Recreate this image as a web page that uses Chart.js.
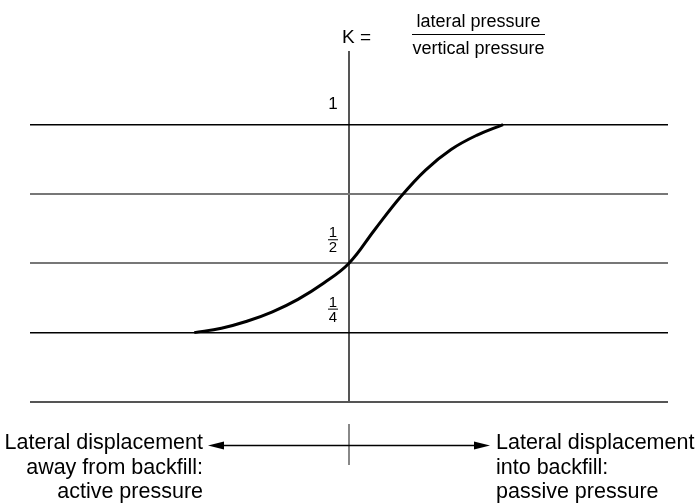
<!DOCTYPE html>
<html>
<head>
<meta charset="utf-8">
<script src="https://cdn.jsdelivr.net/npm/chart.js@4/dist/chart.umd.min.js"></script>
<style>
  html, body { margin: 0; padding: 0; background: #fff; }
  #wrap { width: 695px; height: 503px; position: relative; }
</style>
</head>
<body>
<div id="wrap"><canvas id="c" width="695" height="503"></canvas></div>
<script>
// Earth pressure coefficient K against lateral wall displacement
// (negative = away from backfill / active, positive = into backfill / passive)
const displacement = [-0.485, -0.40, -0.32, -0.24, -0.16, -0.08, 0, 0.08, 0.16, 0.24, 0.32, 0.40, 0.483];
const kValues      = [0.25, 0.266, 0.291, 0.325, 0.370, 0.428, 0.5, 0.620, 0.737, 0.836, 0.910, 0.961, 1.0];

// Reference levels of K and their labels (numerator/denominator)
const kLevels = [0, 0.25, 0.5, 0.75, 1];
const kLabels = [null, ['1', '4'], ['1', '2'], null, ['1']];

const leftCaption  = ['Lateral displacement', 'away from backfill:', 'active pressure'];
const rightCaption = ['Lateral displacement', 'into backfill:', 'passive pressure'];
const titleLeft = 'K =';
const titleNum = 'lateral pressure';
const titleDen = 'vertical pressure';

const FONT = '"Liberation Sans", Arial, Helvetica, sans-serif';

const levelStyle = {
  0:    { color: '#555', width: 2 },
  0.25: { color: '#000', width: 1.5 },
  0.5:  { color: '#777', width: 2 },
  0.75: { color: '#777', width: 2 },
  1:    { color: '#000', width: 1.5 }
};

const annotations = {
  id: 'annotations',
  afterDraw(chart) {
    const ctx = chart.ctx;
    const xs = chart.scales.x, ys = chart.scales.y;
    const x0 = xs.getPixelForValue(0);
    ctx.save();
    ctx.fillStyle = '#000';
    ctx.strokeStyle = '#000';

    // K level labels, just left of the vertical axis
    kLevels.forEach((k, i) => {
      const lab = kLabels[i];
      if (!lab) return;
      const yl = ys.getPixelForValue(k);
      const cx = x0 - 16;
      ctx.textAlign = 'center';
      ctx.textBaseline = 'alphabetic';
      if (lab.length === 1) {
        ctx.font = '17px ' + FONT;
        ctx.fillText(lab[0], cx, yl - 16);
      } else {
        ctx.font = '15px ' + FONT;
        ctx.fillText(lab[0], cx, yl - 26);
        ctx.lineWidth = 1;
        ctx.beginPath();
        ctx.moveTo(cx - 5, yl - 23.5);
        ctx.lineTo(cx + 5, yl - 23.5);
        ctx.stroke();
        ctx.fillText(lab[1], cx, yl - 11);
      }
    });

    // Title: K = lateral / vertical
    ctx.font = '19px ' + FONT;
    ctx.textAlign = 'left';
    ctx.textBaseline = 'alphabetic';
    ctx.fillText(titleLeft, 342, 43);
    ctx.font = '18px ' + FONT;
    const fx = 412, fw = 133, fc = fx + fw / 2;
    ctx.textAlign = 'center';
    ctx.fillText(titleNum, fc, 27);
    ctx.lineWidth = 1;
    ctx.beginPath();
    ctx.moveTo(fx, 34.5);
    ctx.lineTo(fx + fw, 34.5);
    ctx.stroke();
    ctx.fillText(titleDen, fc, 54);

    // Short marker below the plot and the double arrow
    ctx.strokeStyle = '#888';
    ctx.lineWidth = 2;
    ctx.beginPath();
    ctx.moveTo(x0, 424);
    ctx.lineTo(x0, 465);
    ctx.stroke();

    const ay = 445.5, aL = 208, aR = 490, head = 16, hw = 4;
    ctx.strokeStyle = '#000';
    ctx.lineWidth = 1.3;
    ctx.beginPath();
    ctx.moveTo(aL + head - 2, ay);
    ctx.lineTo(aR - head + 2, ay);
    ctx.stroke();
    ctx.beginPath();
    ctx.moveTo(aL, ay); ctx.lineTo(aL + head, ay - hw); ctx.lineTo(aL + head, ay + hw); ctx.closePath();
    ctx.fill();
    ctx.beginPath();
    ctx.moveTo(aR, ay); ctx.lineTo(aR - head, ay - hw); ctx.lineTo(aR - head, ay + hw); ctx.closePath();
    ctx.fill();

    // Captions either side of the arrow
    ctx.font = '21.5px ' + FONT;
    ctx.textAlign = 'right';
    leftCaption.forEach((t, i) => ctx.fillText(t, 203, 449 + i * 24.5));
    ctx.textAlign = 'left';
    rightCaption.forEach((t, i) => ctx.fillText(t, 496, 449 + i * 24.5));
    ctx.restore();
  }
};

new Chart(document.getElementById('c'), {
  type: 'line',
  data: {
    datasets: [{
      data: displacement.map((x, i) => ({ x: x, y: kValues[i] })),
      borderColor: '#000',
      borderWidth: 3,
      pointRadius: 0,
      tension: 0.4,
      fill: false
    }]
  },
  options: {
    responsive: false,
    animation: false,
    devicePixelRatio: 1,
    layout: { padding: { left: 30, right: 27, top: 51, bottom: 101 } },
    plugins: { legend: { display: false }, tooltip: { enabled: false }, title: { display: false } },
    scales: {
      x: {
        type: 'linear', min: -1, max: 1,
        afterBuildTicks: s => { s.ticks = [{ value: 0 }]; },
        ticks: { display: false },
        border: { display: false },
        grid: { drawTicks: false, color: '#555', lineWidth: 2 }
      },
      y: {
        type: 'linear', min: 0, max: 1.265,
        afterBuildTicks: s => { s.ticks = kLevels.map(v => ({ value: v })); },
        ticks: { display: false },
        border: { display: false },
        grid: {
          drawTicks: false,
          color: c => (levelStyle[c.tick.value] || {}).color || '#777',
          lineWidth: c => (levelStyle[c.tick.value] || {}).width || 1
        }
      }
    }
  },
  plugins: [annotations]
});
</script>
</body>
</html>
